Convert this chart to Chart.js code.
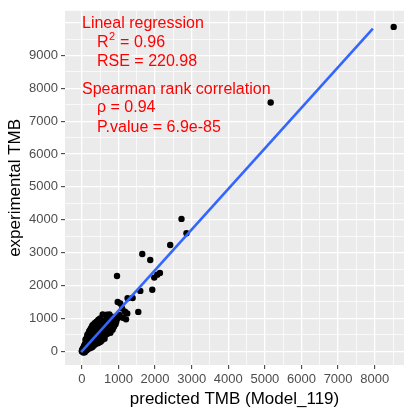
<!DOCTYPE html>
<html>
<head>
<meta charset="utf-8">
<script src="https://cdn.jsdelivr.net/npm/chart.js@4/dist/chart.umd.min.js"></script>
<style>
  html, body { margin: 0; padding: 0; background: #fff; }
  #wrap { width: 408px; height: 416px; }
</style>
</head>
<body>
<div id="wrap"><canvas id="chart" width="408" height="416"></canvas></div>
<script>
// predicted vs experimental TMB
const predictedTMB = [
  8518, 5158, 2722, 2858, 2414, 1651, 1869, 961, 2133, 2060, 1978, 1924, 1597, 1387, 1542,
  979, 1050, 1250, 1207, 1116, 1030, 1180, 1100, 1240, 570, 680, 752, 960, 880,
  0, 10, 20, 30, 40, 50, 60, 70, 80, 90, 100, 110, 120, 130, 140, 150, 160, 170, 180, 190,
  200, 210, 220, 230, 240, 250, 260, 270, 280, 290, 300, 310, 320, 330, 340, 350, 360, 370,
  380, 390, 400, 410, 420, 430, 440, 450, 460, 470, 480, 490, 500, 510, 520, 530, 540, 550,
  560, 570, 580, 590, 600, 610, 620, 630, 640, 650, 660, 670, 680, 690, 700, 720, 740, 760,
  780, 800, 820, 840, 860, 880, 900, 920, 940, 960,
  40, 80, 120, 160, 60, 100, 140, 190, 230, 270, 310, 350, 380, 420, 460, 500, 520, 560, 600,
  640, 200, 250, 300, 330, 360, 410, 450, 480, 540, 580, 620, 660, 700, 720, 750, 780, 820,
  860, 900, 5, 15, 25, 35, 45, 55, 65, 75, 85, 95, 105, 115,
  250, 300, 280, 350, 200, 150, 100, 400, 450, 500, 160, 220, 280, 340, 400, 460, 180, 120
];
const experimentalTMB = [
  9870, 7570, 4027, 3590, 3234, 2958, 2775, 2290, 2383, 2330, 2240, 1870, 1835, 1620, 1196,
  1500, 1450, 1611, 970, 1020, 1100, 1200, 1300, 1150, 1119, 1110, 1119, 1050, 1000,
  0, 30, -10, 60, 20, 90, 40, 120, 10, 150, 60, 180, 100, 40, 210, 120, 250, 80, 190, 300,
  150, 330, 90, 260, 370, 180, 420, 230, 120, 350, 460, 260, 500, 180, 400, 540, 300, 590,
  220, 450, 640, 340, 520, 260, 680, 400, 560, 300, 720, 470, 620, 350, 780, 520, 680, 400,
  820, 560, 720, 430, 860, 600, 780, 480, 900, 650, 560, 820, 700, 520, 950, 760, 620, 880,
  700, 960, 780, 650, 900, 760, 1020, 820, 900, 980,
  -40, -30, 20, 60, 150, 240, 320, 100, 140, 330, 160, 210, 560, 380, 760, 280, 440, 480, 520,
  700, 420, 300, 220, 480, 620, 700, 250, 600, 320, 850, 380, 960, 600, 1000, 820, 560, 1050,
  720, 880, 5, 50, 15, 100, 70, -20, 10, 200, 80, 30, 120, 270,
  700, 800, 650, 850, 600, 480, 350, 900, 950, 1000, 520, 640, 760, 820, 880, 960, 450, 380
];

// linear fit drawn by the reference (end points)
const fitX = [-20, 7950];
const fitY = [-25, 9820];

// axis ticks
const xTickValues = [0, 1000, 2000, 3000, 4000, 5000, 6000, 7000, 8000];
const yTickValues = [0, 1000, 2000, 3000, 4000, 5000, 6000, 7000, 8000, 9000];
const xGridValues = [0, 500, 1000, 1500, 2000, 2500, 3000, 3500, 4000, 4500, 5000, 5500, 6000, 6500, 7000, 7500, 8000, 8500];
const yGridValues = [0, 500, 1000, 1500, 2000, 2500, 3000, 3500, 4000, 4500, 5000, 5500, 6000, 6500, 7000, 7500, 8000, 8500, 9000, 9500, 10000];

// annotation text
const annotationLines = [
  { text: 'Lineal regression', indent: false },
  { text: 'R', sup: '2', rest: ' = 0.96', indent: true },
  { text: 'RSE = 220.98', indent: true },
  { text: 'Spearman rank correlation', indent: false },
  { text: '\u03C1 = 0.94', indent: true },
  { text: 'P.value = 6.9e-85', indent: true }
];
const annotationY = [24, 43, 62, 90, 108, 128];

const points = predictedTMB.map((x, i) => ({ x: x, y: experimentalTMB[i] }));
const fitLine = fitX.map((x, i) => ({ x: x, y: fitY[i] }));

const FONT = '"Liberation Sans", Arial, sans-serif';

const panelBg = {
  id: 'panelBg',
  beforeDraw(chart) {
    const { ctx, chartArea: a } = chart;
    ctx.save();
    ctx.fillStyle = '#EBEBEB';
    ctx.fillRect(a.left, a.top, a.right - a.left, a.bottom - a.top);
    ctx.restore();
  }
};

const annotations = {
  id: 'annotations',
  afterDatasetsDraw(chart) {
    const ctx = chart.ctx;
    ctx.save();
    ctx.fillStyle = '#FF0000';
    ctx.textBaseline = 'middle';
    annotationLines.forEach((ln, i) => {
      let x = ln.indent ? 97 : 82;
      const y = annotationY[i];
      ctx.font = '16px ' + FONT;
      ctx.fillText(ln.text, x, y);
      if (ln.sup) {
        x += ctx.measureText(ln.text).width;
        ctx.font = '11px ' + FONT;
        ctx.fillText(ln.sup, x + 0.5, y - 6);
        x += ctx.measureText(ln.sup).width + 1;
        ctx.font = '16px ' + FONT;
        ctx.fillText(ln.rest, x, y);
      }
    });
    ctx.restore();
  }
};

function gridOpts(labelled) {
  return {
    color: '#FFFFFF',
    lineWidth: (c) => (c.tick && c.tick.value % 1000 === 0 ? 1.3 : 0.7),
    drawTicks: true,
    tickLength: 4,
    tickWidth: 1,
    tickColor: (c) => (c.tick && labelled.includes(c.tick.value) ? '#333333' : 'rgba(0,0,0,0)'),
    drawOnChartArea: true
  };
}

new Chart(document.getElementById('chart'), {
  type: 'scatter',
  data: {
    datasets: [
      {
        data: points,
        backgroundColor: '#000000',
        borderColor: '#000000',
        pointRadius: 3.2,
        pointBorderWidth: 0,
        order: 2
      },
      {
        type: 'line',
        data: fitLine,
        borderColor: '#3366FF',
        borderWidth: 2.6,
        pointRadius: 0,
        fill: false,
        order: 1
      }
    ]
  },
  options: {
    responsive: false,
    animation: false,
    devicePixelRatio: 1,
    layout: { padding: { top: 2, right: 3, left: 0, bottom: 0 } },
    plugins: { legend: { display: false }, tooltip: { enabled: false } },
    scales: {
      x: {
        type: 'linear',
        min: -460,
        max: 8800,
        border: { display: false },
        grid: gridOpts(xTickValues),
        afterBuildTicks: (s) => { s.ticks = xGridValues.map((v) => ({ value: v })); },
        afterFit: (s) => { s.height = 51; },
        ticks: {
          autoSkip: false,
          maxRotation: 0,
          padding: 3,
          color: '#4D4D4D',
          font: { family: FONT, size: 13 },
          callback: (v) => (xTickValues.includes(v) ? String(v) : '')
        },
        title: {
          display: true,
          text: 'predicted TMB (Model_119)',
          color: '#000000',
          font: { family: FONT, size: 17 },
          padding: { top: 0, bottom: 6 }
        }
      },
      y: {
        type: 'linear',
        min: -420,
        max: 10360,
        border: { display: false },
        grid: gridOpts(yTickValues),
        afterBuildTicks: (s) => { s.ticks = yGridValues.map((v) => ({ value: v })); },
        afterFit: (s) => { s.width = 65; },
        ticks: {
          autoSkip: false,
          padding: 3,
          color: '#4D4D4D',
          font: { family: FONT, size: 13 },
          callback: (v) => (yTickValues.includes(v) ? String(v) : '')
        },
        title: {
          display: true,
          text: 'experimental TMB',
          color: '#000000',
          font: { family: FONT, size: 17 },
          padding: { top: 5, bottom: 0 }
        }
      }
    }
  },
  plugins: [panelBg, annotations]
});
</script>
</body>
</html>
